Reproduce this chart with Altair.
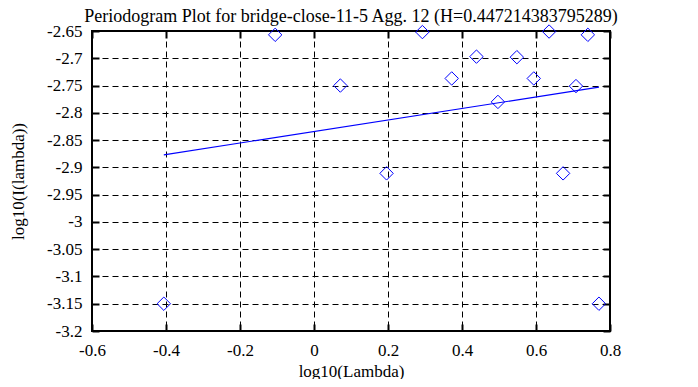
import altair as alt
import pandas as pd

# Periodogram points (log10 frequency, log10 periodogram)
log_lambda = [-0.4059, -0.1049, 0.0712, 0.1961, 0.2930, 0.3722, 0.4391, 0.4971,
              0.5483, 0.5940, 0.6354, 0.6732, 0.7080, 0.7402, 0.7701]
log_i = [-3.150, -2.657, -2.750, -2.911, -2.652, -2.737, -2.697, -2.780,
         -2.698, -2.737, -2.651, -2.911, -2.751, -2.657, -3.150]

# Fitted regression line endpoints
fit_x = [-0.4059, 0.7701]
fit_y = [-2.877, -2.753]

x_ticks = [-0.6, -0.4, -0.2, 0, 0.2, 0.4, 0.6, 0.8]
y_ticks = [-2.65, -2.7, -2.75, -2.8, -2.85, -2.9, -2.95, -3, -3.05, -3.1, -3.15, -3.2]

title = "Periodogram Plot for bridge-close-11-5 Agg. 12 (H=0.447214383795289)"

pts = pd.DataFrame({"x": log_lambda, "y": log_i})
fit = pd.DataFrame({"x": fit_x, "y": fit_y})

FONT = "'Liberation Serif', 'Times New Roman', 'DejaVu Serif', serif"
xscale = alt.Scale(domain=[-0.6, 0.8], nice=False, zero=False)
yscale = alt.Scale(domain=[-3.2, -2.65], nice=False, zero=False)

common_axis = dict(
    labelFont=FONT, titleFont=FONT, labelFontSize=17, titleFontSize=17,
    labelColor="black", titleColor="black", titleFontWeight="normal",
    domain=False, tickColor="black", tickWidth=2, tickSize=7, offset=-7,
    gridColor="black", gridDash=[6, 4], gridWidth=1, gridOpacity=1,
    labelExpr="'' + datum.value",
)

xaxis = alt.Axis(values=x_ticks, title="log10(Lambda)", grid=True, orient="bottom",
                 labelPadding=11, titlePadding=5, labelFlush=False, **common_axis)
yaxis = alt.Axis(values=y_ticks, title="log10(I(lambda))", grid=True, orient="left",
                 labelPadding=10, titlePadding=19, labelFlush=False, **common_axis)

mirror = dict(domain=False, tickColor="black", tickWidth=2, tickSize=7, offset=-7,
              labels=False, grid=False)

points = alt.Chart(pts).mark_point(
    shape="diamond", filled=False, color="#0000ff", size=180, strokeWidth=1, opacity=1
).encode(
    x=alt.X("x:Q", scale=xscale, axis=xaxis),
    y=alt.Y("y:Q", scale=yscale, axis=yaxis),
)

line = alt.Chart(fit).mark_line(color="#0000ff", strokeWidth=1.2, clip=True).encode(
    x=alt.X("x:Q", scale=xscale, title=None,
            axis=alt.Axis(values=x_ticks, orient="top", **mirror)),
    y=alt.Y("y:Q", scale=yscale, title=None,
            axis=alt.Axis(values=y_ticks, orient="right", **mirror)),
)

chart = alt.layer(points, line).resolve_axis(
    x="independent", y="independent"
).properties(
    width=518, height=300,
    title=alt.TitleParams(title, font=FONT, fontSize=18, fontWeight="normal",
                          color="black", anchor="middle", offset=-4),
    autosize=alt.AutoSizeParams(type="none"),
    padding={"left": 84, "top": 23, "right": 72, "bottom": 48},
).configure(font=FONT).configure_axis(
    labelFont=FONT, titleFont=FONT
).configure_view(stroke="black", strokeWidth=2)

chart.save("out.html", embed_options={"renderer": "svg", "actions": False})
